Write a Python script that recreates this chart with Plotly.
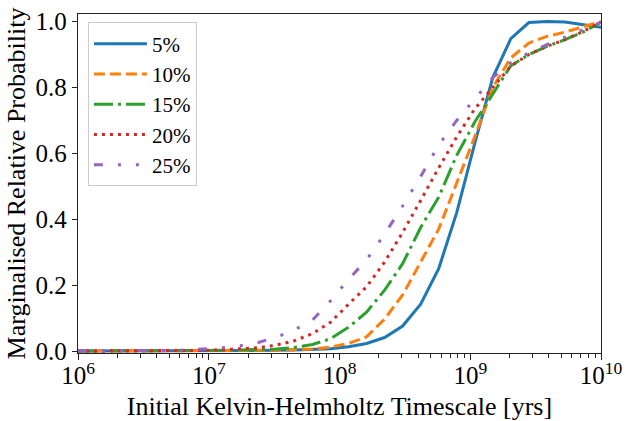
import numpy as np
import plotly.graph_objects as go

# timescale grid: 30 log-spaced points from 1e6 to 1e10 yrs
log_t = np.linspace(6, 10, 30)
timescale = 10 ** log_t

labels = ["5%", "10%", "15%", "20%", "25%"]
p05 = [0, 0, 0, 0, 0, 0, 0, 0, 0, 0.001, 0.001, 0.002, 0.003, 0.004, 0.007,
       0.013, 0.023, 0.041, 0.076, 0.142, 0.25, 0.42, 0.63, 0.83, 0.948,
       0.997, 1.0, 0.999, 0.992, 0.983]
p10 = [0, 0, 0, 0, 0, 0, 0, 0.001, 0.001, 0.001, 0.002, 0.003, 0.004, 0.006, 0.012,
       0.023, 0.043, 0.097, 0.17, 0.27, 0.37, 0.51, 0.65, 0.80, 0.89,
       0.935, 0.955, 0.968, 0.985, 1.0]
p15 = [0, 0, 0, 0, 0, 0, 0.001, 0.001, 0.002, 0.003, 0.004, 0.006, 0.011, 0.02, 0.037,
       0.072, 0.118, 0.185, 0.265, 0.375, 0.467, 0.594, 0.695, 0.78, 0.866,
       0.90, 0.925, 0.945, 0.968, 0.998]
p20 = [0, 0, 0, 0, 0.001, 0.001, 0.001, 0.002, 0.004, 0.006, 0.01, 0.018, 0.031, 0.053, 0.087,
       0.142, 0.195, 0.27, 0.36, 0.457, 0.556, 0.65, 0.735, 0.80, 0.865,
       0.90, 0.925, 0.945, 0.97, 0.998]
p25 = [0, 0, 0.001, 0.001, 0.001, 0.002, 0.003, 0.006, 0.01, 0.016, 0.026, 0.042, 0.064, 0.094, 0.152,
       0.217, 0.277, 0.355, 0.44, 0.53, 0.625, 0.70, 0.765, 0.83, 0.875,
       0.905, 0.93, 0.952, 0.975, 0.998]
series = [p05, p10, p15, p20, p25]

x_tickvals = [1e6, 1e7, 1e8, 1e9, 1e10]
x_ticktext = ["10<sup>6</sup>", "10<sup>7</sup>", "10<sup>8</sup>", "10<sup>9</sup>", "10<sup>10</sup>"]
y_tickvals = [0.0, 0.2, 0.4, 0.6, 0.8, 1.0]
y_ticktext = ["0.0", "0.2", "0.4", "0.6", "0.8", "1.0"]

colors = ["#1f77b4", "#ff7f0e", "#2ca02c", "#d62728", "#9467bd"]
dashes = ["solid", "11px,5px", "19px,5px,3px,5px", "3px,5px",
          "9px,15px,3px,15px,3px,15px"]

FONT = "Liberation Serif"

fig = go.Figure()
for i, (lab, vals) in enumerate(zip(labels, series)):
    fig.add_trace(go.Scatter(
        x=timescale, y=vals, mode="lines", name=lab,
        legendgroup=lab,
        line=dict(color=colors[i], width=3, dash=dashes[i]),
    ))

axis_common = dict(
    showgrid=False, zeroline=False, showline=True, linecolor="#222",
    linewidth=1.3, mirror=True, ticks="outside", tickcolor="#222",
    tickfont=dict(family=FONT, size=25, color="black"),
    automargin=False,
)

fig.update_xaxes(
    type="log", range=[6, 10], tickvals=x_tickvals, ticktext=x_ticktext,
    ticklen=6, tickwidth=1.2, ticklabelstandoff=-6,
    minor=dict(ticks="outside", ticklen=3.5, tickwidth=1, tickcolor="#222",
               dtick="D1", showgrid=False),
    title=dict(text="Initial Kelvin-Helmholtz Timescale [yrs]",
               font=dict(family=FONT, size=26, color="black"), standoff=8),
    **axis_common,
)
fig.update_yaxes(
    range=[-0.006, 1.023], tickvals=y_tickvals, ticktext=y_ticktext,
    ticklen=5, tickwidth=1.2,
    title=dict(text="Marginalised Relative Probability",
               font=dict(family=FONT, size=26, color="black"), standoff=2),
    **axis_common,
)

fig.update_layout(
    width=625, height=421,
    margin=dict(l=78, r=24, t=14, b=68),
    paper_bgcolor="white", plot_bgcolor="white",
    font=dict(family=FONT, color="black"),
    legend=dict(
        x=0.019, y=0.975, xanchor="left", yanchor="top",
        bgcolor="rgba(255,255,255,0.8)", bordercolor="#cccccc", borderwidth=1,
        font=dict(family=FONT, size=21, color="black"),
        tracegroupgap=0, itemwidth=53, entrywidth=125,
    ),
    showlegend=True,
)

fig.write_html(
    "out.html",
    config={"displayModeBar": False},
    post_script="document.body.style.margin='0';document.body.style.padding='0';",
)
